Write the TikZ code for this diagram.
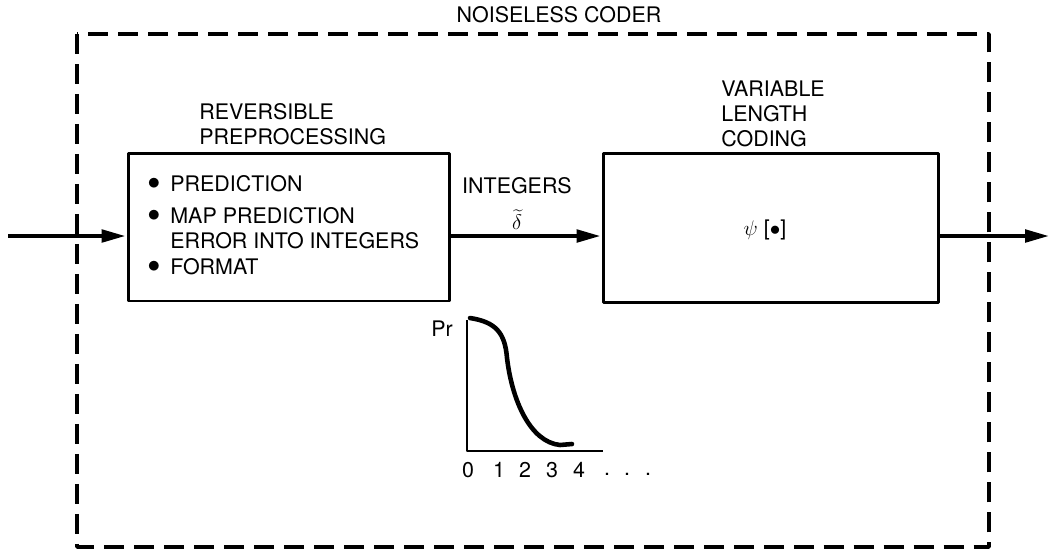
\documentclass[tikz,border=0pt]{standalone}
\usepackage{fontspec}
\setmainfont{TeX Gyre Heros}
\usetikzlibrary{arrows.meta}

\begin{document}
\begin{tikzpicture}[x=0.02cm,y=-0.02cm,line join=round,
    every node/.style={inner sep=0pt,font=\fontsize{12.2}{14.2}\selectfont},
    blk/.style={draw,line width=1.7pt,minimum width=#1},
    flow/.style={line width=2.8pt,-{Triangle[length=0.5cm,width=0.24cm]}},
    lbl/.style={align=left,anchor=west}]
  \useasboundingbox (0,0) rectangle (1050,556);
  % outer dashed frame
  \draw[line width=2.1pt,dash pattern=on 0.4cm off 0.2cm] (77,34) rectangle (989,547);
  \node (title) at (559,15) {NOISELESS CODER};
  % the two blocks
  \node[blk=6.44cm,minimum height=2.96cm] (pre) at (289,227) {};
  \node[blk=6.72cm,minimum height=2.98cm] (vlc) at (771,228) {};
  \node[lbl] (preT) at (199,124) {REVERSIBLE\\PREPROCESSING};
  \node[lbl] (vlcT) at (721,114) {VARIABLE\\LENGTH\\CODING};
  % bullets
  \node (b1) at (154,184) {\Large$\bullet$};
  \node (b2) at (154,216) {\Large$\bullet$};
  \node (b3) at (154,267) {\Large$\bullet$};
  \node[lbl] (t1) at (170,184) {PREDICTION};
  \node[lbl] (t2) at (170,228) {MAP PREDICTION\\ERROR INTO INTEGERS};
  \node[lbl] (t3) at (170,267) {FORMAT};
  \node (psi) at (765,230) {$\psi$ [$\bullet$]};
  % signal path
  \coordinate (in) at (8,236);
  \coordinate (out) at (1050,236);
  \draw[flow] (in) -- (in -| pre.west);
  \draw[flow] (pre.east |- in) -- (vlc.west |- in);
  \node (int) at (517,186) {INTEGERS};
  \node (del) at (517,220) {$\widetilde{\delta}$};
  \draw[flow] (vlc.east |- in) -- (out);
  % sketch of the distribution
  \coordinate (org) at (467,451);
  \draw[line width=1.1pt] (467,320) -- (org) -- (603,451);
  \node (pr) at (442,329) {Pr};
  \draw[line width=2.6pt,line cap=round] (470,318) .. controls (496,322) and (505,333) .. (507,358)
    .. controls (512,400) and (530,442) .. (560,445) -- (572,444);
  \foreach \x/\t in {468/0,499/1,525/2,552/3,579/4}
    \node (n\t) at (\x,470) {\t};
  \foreach \x in {607,627,648}
    \node at (\x,474) {.};
\end{tikzpicture}
\end{document}
